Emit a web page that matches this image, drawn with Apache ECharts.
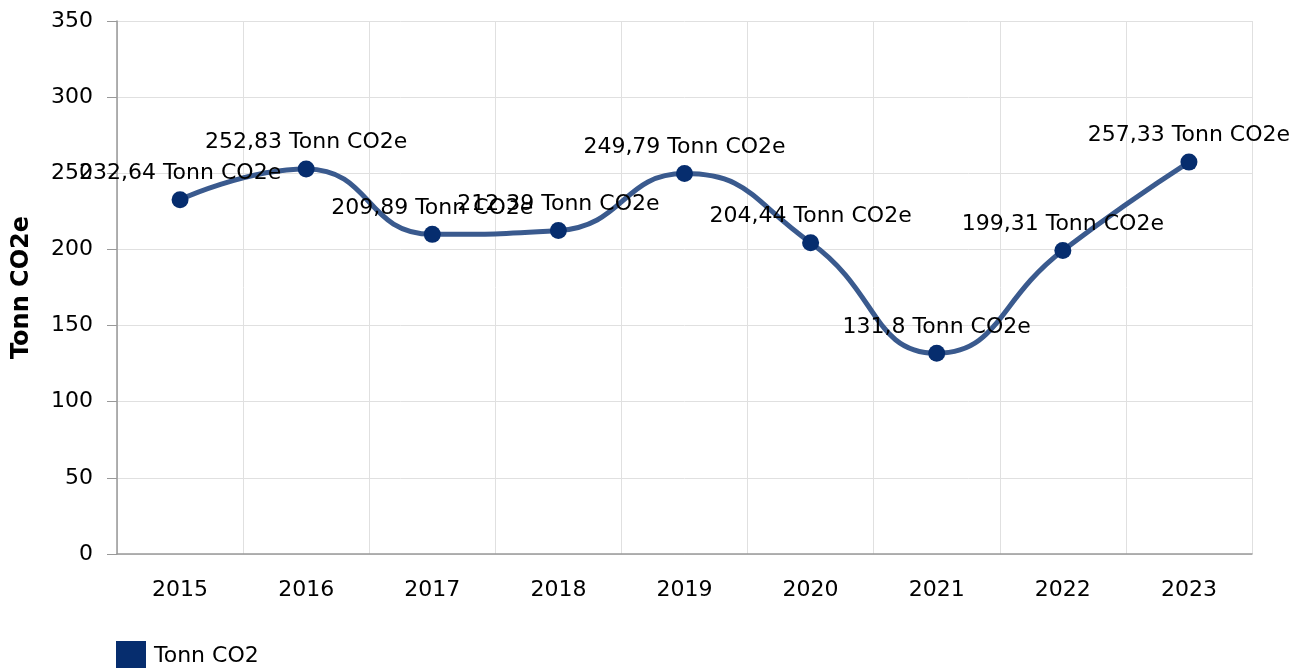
<!DOCTYPE html>
<html>
<head>
<meta charset="utf-8">
<script src="https://cdn.jsdelivr.net/npm/echarts@6/dist/echarts.min.js"></script>
<style>
  html, body { margin: 0; padding: 0; background: #fff; }
  #main { width: 1294px; height: 668px; }
</style>
</head>
<body>
<div id="main"></div>
<script>
const years = ["2015", "2016", "2017", "2018", "2019", "2020", "2021", "2022", "2023"]
const emissions = [232.64, 252.83, 209.89, 212.39, 249.79, 204.44, 131.8, 199.31, 257.33]
const seriesName = "Tonn CO2"
const unit = "Tonn CO2e"

const chart = echarts.init(document.getElementById("main"))
const font = "DejaVu Sans, Verdana, sans-serif"

const option = {
  animation: false,
  textStyle: { fontFamily: font },
  grid: { left: 117, right: 42, top: 21, bottom: 114 },
  legend: {
    left: 116,
    top: 641,
    padding: 0,
    itemWidth: 30,
    itemHeight: 30,
    icon: "rect",
    itemGap: 8,
    textStyle: { fontSize: 22, color: "#000", fontFamily: font, padding: [0, 0, 0, 3] },
    data: [seriesName]
  },
  xAxis: {
    type: "category",
    data: years,
    boundaryGap: true,
    axisLine: { lineStyle: { color: "#999", width: 1.5 } },
    axisTick: { alignWithLabel: true, length: 8, lineStyle: { color: "#999" } },
    axisLabel: { fontSize: 22, color: "#000", margin: 25 },
    splitLine: { show: true, lineStyle: { color: "#e0e0e0", width: 1 } }
  },
  yAxis: {
    type: "value",
    min: 0,
    max: 350,
    interval: 50,
    name: unit,
    nameLocation: "middle",
    nameGap: 83,
    nameTextStyle: { fontSize: 24, fontWeight: "bold", color: "#000" },
    axisLine: { show: true, lineStyle: { color: "#999", width: 1.5 } },
    axisTick: { show: true, length: 10, lineStyle: { color: "#999" } },
    axisLabel: { fontSize: 22, color: "#000", margin: 24 },
    splitLine: { lineStyle: { color: "#e0e0e0", width: 1 } }
  },
  series: [
    {
      name: seriesName,
      type: "line",
      data: emissions,
      smooth: 0.5,
      symbol: "circle",
      symbolSize: 17,
      itemStyle: { color: "#062d6e" },
      lineStyle: { color: "#3a5a8e", width: 5 },
      label: {
        show: true,
        position: "top",
        distance: 7,
        fontSize: 22,
        color: "#000",
        formatter: p => String(p.value).replace(".", ",") + " " + unit
      }
    }
  ]
}
chart.setOption(option)
</script>
</body>
</html>
